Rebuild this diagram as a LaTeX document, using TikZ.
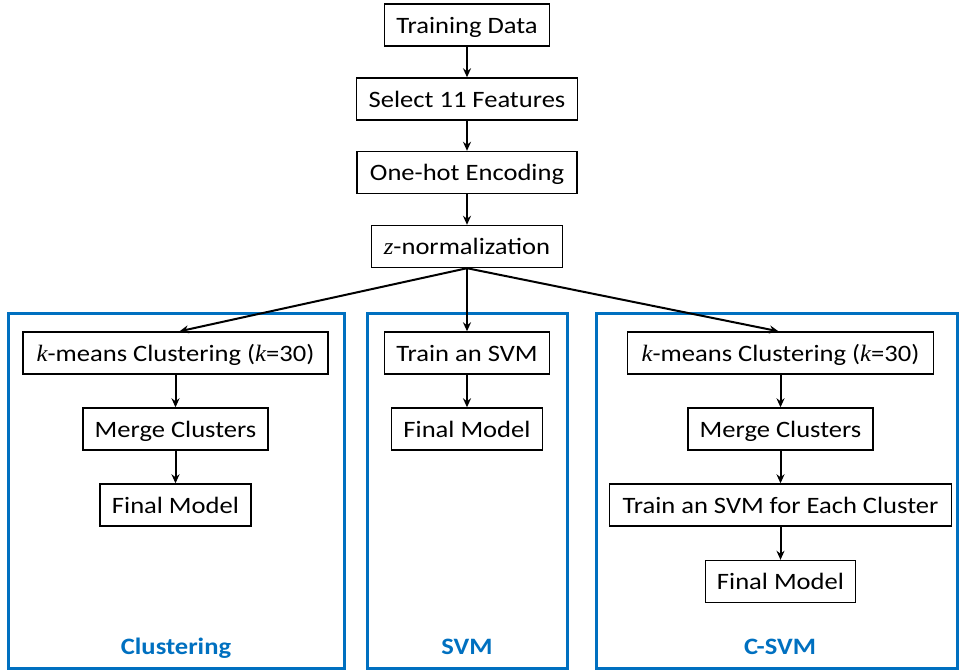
\documentclass[tikz,border=0pt]{standalone}
\usepackage{fontspec}
\setmainfont{Carlito}[FakeStretch=1.13]
\newfontfamily\serifvarfont{Liberation Serif}[FakeStretch=1.05]
\usetikzlibrary{arrows.meta}
\definecolor{frameblue}{HTML}{0070C0}
\tikzset{
  stepbox/.style={draw=black, line width=1.4pt, fill=white, minimum height=42pt, inner xsep=0pt, text height=16pt, text depth=0pt, font=\fontsize{23.5}{26}\selectfont},
  frame/.style={draw=frameblue, line width=3pt},
  flabel/.style={text=frameblue, text height=16pt, text depth=0pt, font=\fontsize{23.5}{26}\selectfont\bfseries},
  arr/.style={line width=2pt, -{Stealth[length=9pt,width=8pt]}}
}
\newcommand{\ivar}[1]{{\serifvarfont\itshape #1}}
\begin{document}
\begin{tikzpicture}[x=1pt,y=-1pt]
\useasboundingbox (0,0) rectangle (959,670);
% frames
\node[frame, minimum width=336pt, minimum height=355pt] (fc) at (176,490.5) {};
\node[frame, minimum width=200pt, minimum height=355pt] (fs) at (467,490.5) {};
\node[frame, minimum width=361pt, minimum height=355pt] (fcs) at (776.5,490.5) {};
\node[flabel] (lc) at (176,646) {Clustering};
\node[flabel] (ls) at (467,646) {SVM};
\node[flabel] (lcs) at (780,646) {C-SVM};
% top chain
\node[stepbox, minimum width=165pt] (td) at (467,25) {Training Data};
\node[stepbox, minimum width=221pt] (sf) at (467,99) {Select 11 Features};
\node[stepbox, minimum width=220pt] (oh) at (467,172.5) {One-hot Encoding};
\node[stepbox, minimum width=191pt] (zn) at (467,246.5) {\ivar{z}-normalization};
% clustering
\node[stepbox, minimum width=305pt] (km1) at (175.5,353) {\ivar{k}-means Clustering (\ivar{k}=30)};
\node[stepbox, minimum width=185pt] (mc1) at (175.5,429) {Merge Clusters};
\node[stepbox, minimum width=151pt] (fm1) at (175.5,505) {Final Model};
% svm
\node[stepbox, minimum width=165pt] (ts) at (467,353) {Train an SVM};
\node[stepbox, minimum width=151pt] (fm2) at (467,429) {Final Model};
% c-svm
\node[stepbox, minimum width=306pt] (km3) at (780.5,353) {\ivar{k}-means Clustering (\ivar{k}=30)};
\node[stepbox, minimum width=185pt] (mc3) at (780.5,429) {Merge Clusters};
\node[stepbox, minimum width=342pt] (te) at (780.5,505) {Train an SVM for Each Cluster};
\node[stepbox, minimum width=150pt] (fm3) at (780.5,581.5) {Final Model};
% arrows
\draw[arr] (td) -- (sf);
\draw[arr] (sf) -- (oh);
\draw[arr] (oh) -- (zn);
\draw[arr] (zn.south) -- ([xshift=4pt]km1.north);
\draw[arr] (zn.south) -- (ts.north);
\draw[arr] (zn.south) -- ([xshift=-2pt]km3.north);
\draw[arr] (km1) -- (mc1);
\draw[arr] (mc1) -- (fm1);
\draw[arr] (ts) -- (fm2);
\draw[arr] (km3) -- (mc3);
\draw[arr] (mc3) -- (te);
\draw[arr] (te) -- (fm3);
\end{tikzpicture}
\end{document}
